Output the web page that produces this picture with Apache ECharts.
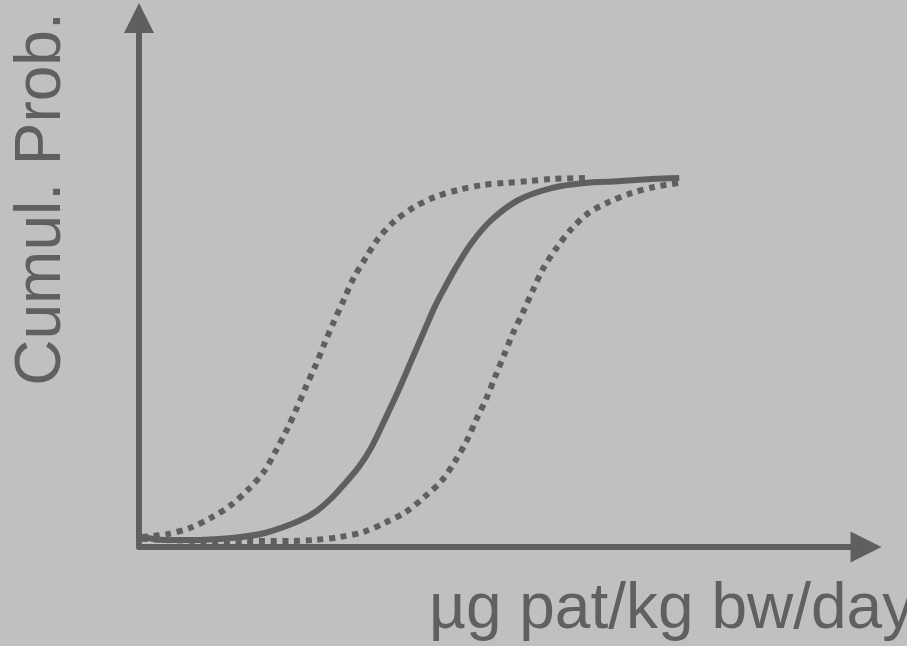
<!DOCTYPE html>
<html>
<head>
<meta charset="utf-8">
<script src="https://cdn.jsdelivr.net/npm/echarts@6/dist/echarts.min.js"></script>
<style>
html,body{margin:0;padding:0;background:#c0c0c0;}
#chart{width:907px;height:646px;}
</style>
</head>
<body>
<div id="chart"></div>
<script>
// Axis titles
var xTitle = 'µg pat/kg bw/day';
var yTitle = 'Cumul. Prob.';

// Lower bound curve (dotted, left)
var lowerX = [0.2, 2.7, 5.0, 7.1, 9.1, 10.9, 12.4, 13.6, 14.7, 15.7, 16.6, 17.6, 18.5, 19.4, 20.4, 21.4, 22.6, 23.9, 25.5, 27.5, 29.5, 31.9, 34.2, 36.5, 38.9, 41.2, 45.0];
var lowerY = [0.011, 0.019, 0.036, 0.064, 0.099, 0.144, 0.191, 0.249, 0.307, 0.367, 0.425, 0.486, 0.547, 0.605, 0.666, 0.727, 0.782, 0.837, 0.884, 0.923, 0.950, 0.970, 0.983, 0.989, 0.994, 1.000, 1.003];

// Median curve (solid)
var medianX = [0.2, 2.5, 5.9, 9.2, 12.5, 15.9, 17.7, 19.2, 20.2, 21.9, 23.2, 24.5, 25.9, 27.2, 28.5, 29.5, 30.5, 31.5, 33.2, 35.2, 37.9, 41.2, 44.5, 47.9, 51.2, 54.0];
var medianY = [0.011, 0.003, 0.003, 0.008, 0.022, 0.055, 0.083, 0.119, 0.149, 0.204, 0.260, 0.334, 0.417, 0.500, 0.583, 0.646, 0.699, 0.749, 0.823, 0.887, 0.942, 0.975, 0.989, 0.994, 1.000, 1.003];

// Upper bound curve (dotted, right)
var upperX = [0.2, 6.2, 10.5, 15.2, 17.5, 20.0, 22.4, 24.5, 26.6, 28.5, 30.2, 31.5, 32.7, 33.7, 34.7, 35.6, 36.5, 37.4, 38.4, 39.4, 40.4, 41.7, 43.2, 44.9, 46.9, 49.2, 51.5, 54.0];
var upperY = [0.006, 0.000, 0.000, 0.000, 0.003, 0.011, 0.025, 0.050, 0.080, 0.122, 0.166, 0.218, 0.276, 0.337, 0.395, 0.456, 0.517, 0.577, 0.635, 0.696, 0.754, 0.809, 0.862, 0.906, 0.936, 0.961, 0.978, 0.989];

function pairs(xs, ys) {
  return xs.map(function (x, i) { return [x, ys[i]]; });
}

var ink = '#5f5f5f';
var chart = echarts.init(document.getElementById('chart'), null, {renderer: 'canvas'});
chart.setOption({
  backgroundColor: '#c0c0c0',
  animation: false,
  grid: {left: 139, right: 41, top: 18, bottom: 99, containLabel: false},
  xAxis: {
    type: 'value', min: -0.1, max: 72.7,
    axisLine: {show: true, onZero: false, symbol: ['none', 'triangle'], symbolSize: [31, 31],
      lineStyle: {color: ink, width: 6}},
    axisTick: {show: false}, axisLabel: {show: false}, splitLine: {show: false}
  },
  yAxis: {
    type: 'value', min: -0.0166, max: 1.4448,
    axisLine: {show: true, onZero: false, symbol: ['none', 'triangle'], symbolSize: [30, 30],
      lineStyle: {color: ink, width: 6}},
    axisTick: {show: false}, axisLabel: {show: false}, splitLine: {show: false}
  },
  series: [
    {type: 'line', data: pairs(lowerX, lowerY), smooth: 0.3, showSymbol: false, silent: true,
      lineStyle: {color: ink, width: 6, type: [6, 5.7], cap: 'butt'}},
    {type: 'line', data: pairs(upperX, upperY), smooth: 0.3, showSymbol: false, silent: true,
      lineStyle: {color: ink, width: 6, type: [6, 5.7], cap: 'butt'}},
    {type: 'line', data: pairs(medianX, medianY), smooth: 0.3, showSymbol: false, silent: true,
      lineStyle: {color: ink, width: 6, type: 'solid', cap: 'butt'}}
  ],
  graphic: [
    {type: 'text', x: 42, y: 199, rotation: Math.PI / 2,
      style: {text: yTitle, fill: '#606060', font: '64px "Liberation Sans", Arial, sans-serif',
        textAlign: 'center', textVerticalAlign: 'middle'}},
    {type: 'text', x: 429, y: 610,
      style: {text: xTitle, fill: '#606060', font: '64px "Liberation Sans", Arial, sans-serif',
        textAlign: 'left', textVerticalAlign: 'middle'}}
  ]
});
</script>
</body>
</html>
